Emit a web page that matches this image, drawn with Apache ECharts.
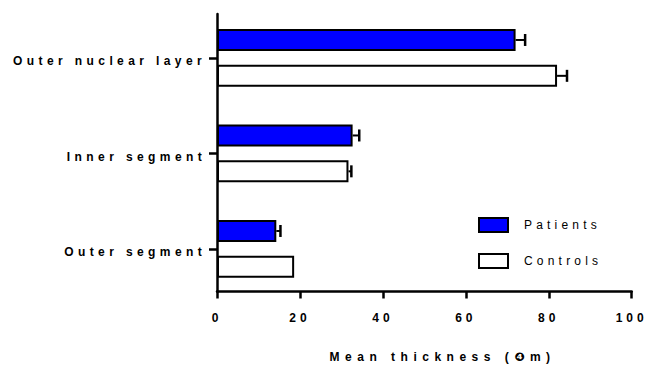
<!DOCTYPE html>
<html>
<head>
<meta charset="utf-8">
<script src="https://cdn.jsdelivr.net/npm/echarts@6/dist/echarts.min.js"></script>
<style>
  html, body { margin: 0; padding: 0; background: #fff; }
  #main { width: 646px; height: 365px; }
</style>
</head>
<body>
<div id="main"></div>
<script>
// ---- data (top to bottom) ----
const categories = ['Outer nuclear layer', 'Inner segment', 'Outer segment'];
const seriesNames = ['Patients', 'Controls'];
const patients = [72, 32.7, 14.3];
const patientsErr = [2.3, 1.6, 1.0];
const controls = [82, 31.7, 18.6];
const controlsErr = [2.4, 0.7, 0];
const xTickValues = [0, 20, 40, 60, 80, 100];
const xAxisTitle = 'Mean thickness (\u2779m)';

// ---- style constants ----
const FONT = '"Liberation Sans", Arial, "DejaVu Sans", sans-serif';
const BAR_W = 22;
const BAR_GAP = 0.63;
const OFFSET = (BAR_W + BAR_W * BAR_GAP) / 2;
const CAP = 6;

const errData = [];
patients.forEach((v, i) => errData.push([v, i, patientsErr[i], 0]));
controls.forEach((v, i) => errData.push([v, i, controlsErr[i], 1]));

const chart = echarts.init(document.getElementById('main'), null, { renderer: 'svg' });

const option = {
  animation: false,
  backgroundColor: '#fff',
  textStyle: { fontFamily: FONT },
  grid: [
    { left: 217, right: 14.3, top: 10.15, height: 286.5, outerBoundsMode: 'none', containLabel: false },
    { left: 217, right: 14.3, top: 14, bottom: 73.5, outerBoundsMode: 'none', containLabel: false }
  ],
  legend: {
    data: seriesNames,
    orient: 'vertical',
    left: 478,
    top: 217,
    padding: 0,
    itemWidth: 29,
    itemHeight: 14,
    itemGap: 20,
    icon: 'rect',
    selectedMode: false,
    textStyle: { fontSize: 12, color: '#000', fontFamily: FONT, padding: [8, 0, 0, 11] }
  },
  xAxis: [
    { gridIndex: 0, type: 'value', min: 0, max: 100, show: false },
    {
      gridIndex: 1, type: 'value', min: 0, max: 100, interval: 20,
      axisLine: { show: true, lineStyle: { color: '#000', width: 2.5 } },
      axisTick: { show: true, length: 7, lineStyle: { color: '#000', width: 2.5 } },
      splitLine: { show: false },
      axisLabel: {
        margin: 20, color: '#000', fontSize: 12, fontWeight: 'bold', fontFamily: FONT,
        customValues: xTickValues, padding: [0, 4, 0, 0]
      },
      name: xAxisTitle,
      nameLocation: 'middle',
      nameGap: 59,
      nameTextStyle: { color: '#000', fontSize: 12, fontWeight: 'bold', fontFamily: FONT, padding: [0, 0, 0, 31] }
    }
  ],
  yAxis: [
    {
      gridIndex: 0, type: 'category', data: categories, inverse: true,
      axisLine: { show: false },
      axisTick: { show: true, alignWithLabel: true, length: 8, lineStyle: { color: '#000', width: 2.5 } },
      axisLabel: {
        margin: 15.3, color: '#000', fontSize: 12, fontWeight: 'bold', fontFamily: FONT,
        verticalAlign: 'top', lineHeight: 6.5
      },
      splitLine: { show: false }
    },
    {
      gridIndex: 1, type: 'value', min: 0, max: 1,
      axisLine: { show: true, lineStyle: { color: '#000', width: 2.5 } },
      axisTick: { show: false },
      axisLabel: { show: false },
      splitLine: { show: false }
    }
  ],
  series: [
    {
      name: seriesNames[0], type: 'bar', xAxisIndex: 0, yAxisIndex: 0,
      data: patients, barWidth: BAR_W, barGap: (BAR_GAP * 100) + '%',
      itemStyle: { color: '#0000FF', borderColor: '#000', borderWidth: 2 }
    },
    {
      name: seriesNames[1], type: 'bar', xAxisIndex: 0, yAxisIndex: 0,
      data: controls, barWidth: BAR_W, barGap: (BAR_GAP * 100) + '%',
      itemStyle: { color: '#FFFFFF', borderColor: '#000', borderWidth: 2 }
    },
    {
      name: 'errors', type: 'custom', xAxisIndex: 0, yAxisIndex: 0, z: 10,
      data: errData,
      encode: { x: 0, y: 1 },
      renderItem: function (params, api) {
        const v = api.value(0), ci = api.value(1), err = api.value(2), si = api.value(3);
        if (!err) return null;
        const off = (si === 0 ? -1 : 1) * OFFSET;
        const p0 = api.coord([v, ci]);
        const p1 = api.coord([v + err, ci]);
        const y = p0[1] + off;
        return {
          type: 'group',
          children: [
            { type: 'line', shape: { x1: p0[0], y1: y, x2: p1[0], y2: y }, style: { stroke: '#000', lineWidth: 2 } },
            { type: 'line', shape: { x1: p1[0], y1: y - CAP, x2: p1[0], y2: y + CAP }, style: { stroke: '#000', lineWidth: 2.5 } }
          ]
        };
      }
    }
  ]
};

chart.setOption(option);

// letter-spaced text, as in the reference (no trailing space after the last glyph)
function spaceText(t, ls) {
  if (t.getAttribute('data-ls')) return;
  const s = t.textContent;
  if (s.length < 2) { t.setAttribute('data-ls', '1'); return; }
  t.textContent = s.slice(0, -1);
  t.style.letterSpacing = ls + 'px';
  const ts = document.createElementNS('http://www.w3.org/2000/svg', 'tspan');
  ts.textContent = s.slice(-1);
  ts.style.letterSpacing = '0px';
  t.appendChild(ts);
  t.setAttribute('data-ls', '1');
}
document.querySelectorAll('#main svg text').forEach(function (t) {
  const s = t.textContent;
  if (s === xAxisTitle) spaceText(t, 5.5);
  else if (xTickValues.map(String).indexOf(s) >= 0) spaceText(t, 4);
  else if (seriesNames.indexOf(s) >= 0) spaceText(t, 4.2);
  else spaceText(t, 4.4);
});
</script>
</body>
</html>
